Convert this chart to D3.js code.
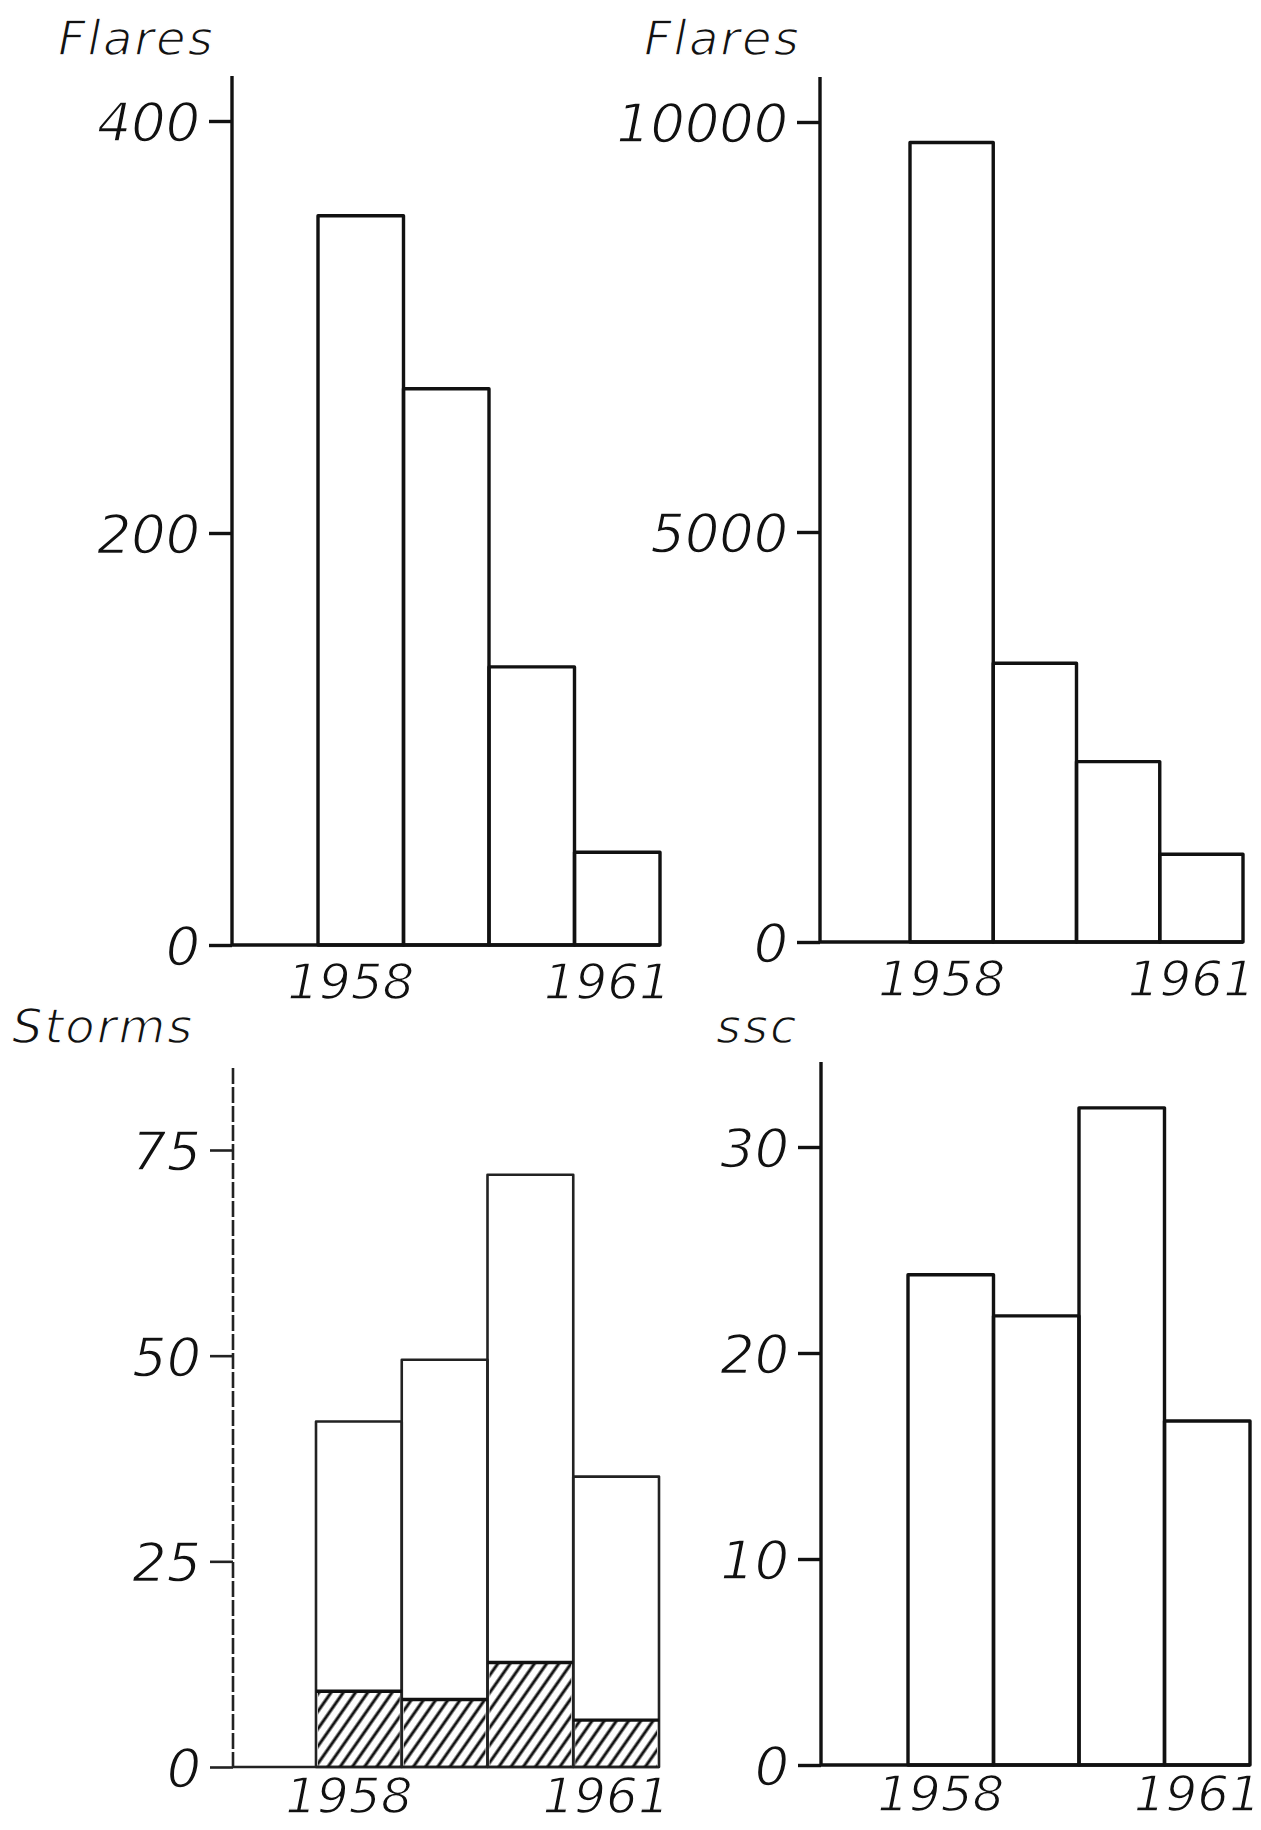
<!DOCTYPE html>
<html>
<head>
<meta charset="utf-8">
<script src="https://cdn.jsdelivr.net/npm/d3@7"></script>
<style>
  body { margin: 0; background: #fff; }
  svg text { font-family: "DejaVu Sans", sans-serif; font-style: oblique; fill: #111;
             stroke: #fff; stroke-width: 1.4px; }
</style>
</head>
<body>
<svg id="chart" width="1261" height="1830"></svg>
<script>
// Data
const years = ["1958", "1959", "1960", "1961"];
const yearLabels = ["1958", "1961"];

const flaresCount = [354, 270, 135, 45];
const flaresTicks = [0, 200, 400];

const flaresArea = [9750, 3400, 2200, 1070];
const flaresAreaTicks = [0, 5000, 10000];

const stormsAll = [42, 49.5, 72, 35.3];
const stormsHatched = [9.2, 8.2, 12.7, 5.7];
const stormsTicks = [0, 25, 50, 75];

const sscCount = [23.8, 21.8, 31.9, 16.7];
const sscTicks = [0, 10, 20, 30];

// Layout of each panel (pixels)
const panels = [
  { label: "Flares", labelX: 58, labelY: 55, axisX: 232, axisTop: 76, base: 945, topTickY: 121,
    barsStart: 318, barsEnd: 660, yearPad: 18, values: flaresCount, ticks: flaresTicks },
  { label: "Flares", labelX: 644, labelY: 55, axisX: 820, axisTop: 77, base: 942, topTickY: 122,
    barsStart: 910, barsEnd: 1243, yearPad: 18, values: flaresArea, ticks: flaresAreaTicks },
  { label: "Storms", labelX: 12, labelY: 1043, axisX: 233, axisTop: 1068, base: 1767, topTickY: 1150,
    barsStart: 316, barsEnd: 659, yearPad: 10, values: stormsAll, hatched: stormsHatched,
    ticks: stormsTicks, light: true },
  { label: "ssc", labelX: 716, labelY: 1043, axisX: 821, axisTop: 1062, base: 1765, topTickY: 1147,
    barsStart: 908, barsEnd: 1250, yearPad: 10, values: sscCount, ticks: sscTicks }
];

const svg = d3.select("#chart");

// Hatching for the lower part of the storm bars
const defs = svg.append("defs");
defs.append("pattern")
    .attr("id", "hatch")
    .attr("patternUnits", "userSpaceOnUse")
    .attr("width", 10)
    .attr("height", 10)
    .attr("patternTransform", "rotate(35)")
  .append("line")
    .attr("x1", 2).attr("y1", 0)
    .attr("x2", 2).attr("y2", 10)
    .attr("stroke", "#111")
    .attr("stroke-width", 3);

panels.forEach(p => {
    const g = svg.append("g");
    const strokeW = p.light ? 2.6 : 3.4;
    const strokeC = p.light ? "#222" : "#111";

    const y = d3.scaleLinear()
        .domain([0, p.ticks[p.ticks.length - 1]])
        .range([p.base, p.topTickY]);

    const x = d3.scaleBand()
        .domain(years)
        .range([p.barsStart, p.barsEnd])
        .padding(0);

    // Y axis
    const yAxisG = g.append("g")
        .attr("transform", `translate(${p.axisX},0)`)
        .call(d3.axisLeft(y).tickValues(p.ticks).tickFormat(d3.format("d"))
            .tickSize(23).tickPadding(9).tickSizeOuter(0));
    yAxisG.select(".domain").remove();
    yAxisG.selectAll("line").attr("stroke", strokeC).attr("stroke-width", strokeW);
    yAxisG.selectAll("text")
        .attr("font-size", 54)
        .attr("dy", "0.36em")
        .style("font-family", null);

    g.append("line")
        .attr("x1", p.axisX).attr("x2", p.axisX)
        .attr("y1", p.axisTop).attr("y2", p.base)
        .attr("stroke", strokeC)
        .attr("stroke-width", strokeW)
        .attr("stroke-dasharray", p.light ? "16,3" : null);

    // Baseline
    g.append("line")
        .attr("x1", p.axisX).attr("x2", p.barsEnd)
        .attr("y1", p.base).attr("y2", p.base)
        .attr("stroke", strokeC)
        .attr("stroke-width", strokeW);

    // Bars
    g.selectAll(".bar")
        .data(p.values.map((v, i) => ({ year: years[i], value: v })))
        .join("rect")
        .attr("class", "bar")
        .attr("x", d => x(d.year))
        .attr("y", d => y(d.value))
        .attr("width", x.bandwidth())
        .attr("height", d => p.base - y(d.value))
        .attr("fill", "none")
        .attr("stroke", strokeC)
        .attr("stroke-width", strokeW)
        .attr("stroke-linejoin", "round");

    if (p.hatched) {
        g.selectAll(".hatch")
            .data(p.hatched.map((v, i) => ({ year: years[i], value: v })))
            .join("rect")
            .attr("class", "hatch")
            .attr("x", d => x(d.year) + 2)
            .attr("y", d => y(d.value))
            .attr("width", x.bandwidth() - 4)
            .attr("height", d => p.base - y(d.value))
            .attr("fill", "url(#hatch)");

        g.selectAll(".hatch-top")
            .data(p.hatched.map((v, i) => ({ year: years[i], value: v })))
            .join("line")
            .attr("class", "hatch-top")
            .attr("x1", d => x(d.year))
            .attr("x2", d => x(d.year) + x.bandwidth())
            .attr("y1", d => y(d.value))
            .attr("y2", d => y(d.value))
            .attr("stroke", "#111")
            .attr("stroke-width", 3.4);
    }

    // Year labels
    const xAxisG = g.append("g")
        .attr("transform", `translate(-10,${p.base})`)
        .call(d3.axisBottom(x).tickValues(yearLabels).tickSize(0).tickPadding(p.yearPad));
    xAxisG.select(".domain").remove();
    xAxisG.selectAll("text")
        .attr("font-size", 50)
        .style("font-family", null);

    // Panel title
    g.append("text")
        .attr("x", p.labelX)
        .attr("y", p.labelY)
        .attr("font-size", 48)
        .attr("letter-spacing", 2)
        .text(p.label);
});
</script>
</body>
</html>
